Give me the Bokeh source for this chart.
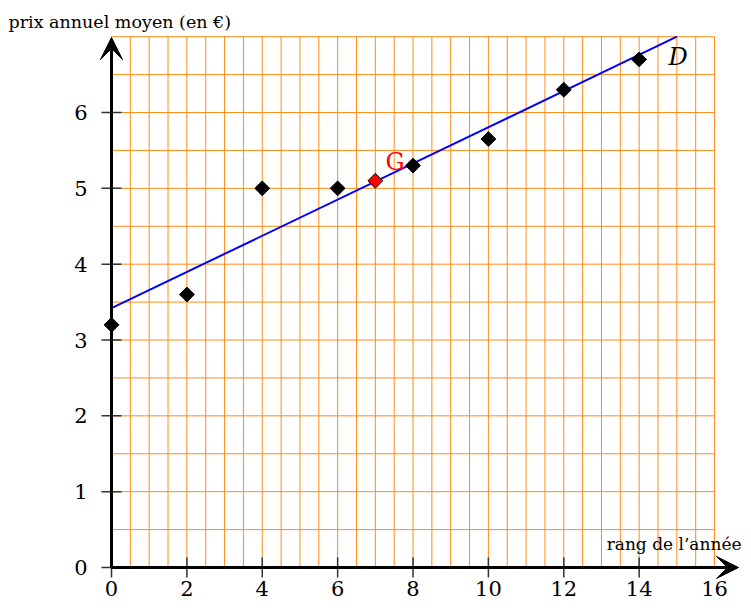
import numpy as np
from bokeh.plotting import figure
from bokeh.models import Range1d, Arrow, VeeHead
from bokeh.core.properties import value
from bokeh.embed import file_html
from bokeh.resources import INLINE

# ---- data ----
rang = [0, 2, 4, 6, 8, 10, 12, 14]
prix = [3.2, 3.6, 5.0, 5.0, 5.3, 5.65, 6.3, 6.7]
g_x = [7]
g_y = [5.1]
droite_x = [0, 15]
droite_y = [3.42, 7.0]
x_ticks = [0, 2, 4, 6, 8, 10, 12, 14, 16]
y_ticks = [0, 1, 2, 3, 4, 5, 6]
x_tick_labels = [str(v) for v in x_ticks]
y_tick_labels = [str(v) for v in y_ticks]
y_title = "prix annuel moyen (en €)"
x_title = "rang de l’année"

FONT = value("DejaVu Serif")
X0, Y0 = 111, 567      # pixel position of origin
PX_X = 37.69           # pixels per x unit
PX_Y = 75.83           # pixels per y unit
W, H = 743, 600


def dx(px):
    return (px - X0) / PX_X


def dy(py):
    return (Y0 - py) / PX_Y


p = figure(width=W, height=H,
           x_range=Range1d(dx(0), dx(W)), y_range=Range1d(dy(H), dy(0)),
           min_border=0, toolbar_location=None, output_backend="svg",
           x_axis_location=None, y_axis_location=None)
p.grid.visible = False
p.outline_line_color = None

# grid
gx = np.arange(0, 16.001, 0.5)
gy = np.arange(0, 7.001, 0.5)
p.segment(x0=gx, y0=0, x1=gx, y1=7, line_color="#FF8C1A", line_width=1)
p.segment(x0=0, y0=gy, x1=16, y1=gy, line_color="#FF8C1A", line_width=1)

# ticks
tx = np.array(x_ticks[:-1], dtype=float)
p.segment(x0=tx, y0=-10 / PX_Y, x1=tx, y1=10 / PX_Y, line_color="#333333", line_width=1.5)
ty = np.array(y_ticks, dtype=float)
p.segment(x0=-10 / PX_X, y0=ty, x1=10 / PX_X, y1=ty, line_color="#333333", line_width=1.5)

# axes with arrows
p.add_layout(Arrow(end=VeeHead(size=22, fill_color="black", line_color="black"),
                   x_start=0, y_start=0, x_end=dx(738), y_end=0,
                   line_width=3, line_color="black"))
p.add_layout(Arrow(end=VeeHead(size=22, fill_color="black", line_color="black"),
                   x_start=0, y_start=0, x_end=0, y_end=dy(37),
                   line_width=3, line_color="black"))

# regression line
p.line(droite_x, droite_y, line_color="#0000FF", line_width=2)

# points
p.scatter(rang, prix, marker="square", size=10.5, angle=np.pi / 4,
          fill_color="black", line_color="black")
p.scatter(g_x, g_y, marker="square", size=10.5, angle=np.pi / 4,
          fill_color="red", line_color="black", line_width=1)

# tick labels
p.text(x=x_ticks, y=dy(588), text=x_tick_labels, text_font=FONT,
       text_font_size="21px", text_align="center", text_baseline="middle", text_color="black")
p.text(x=dx(80.5), y=y_ticks, text=y_tick_labels, text_font=FONT,
       text_font_size="21px", text_align="center", text_baseline="middle", text_color="black")

# titles
p.text(x=[dx(8)], y=[dy(21)], text=[y_title], text_font=FONT,
       text_font_size="17.5px", text_align="left", text_baseline="middle", text_color="black")
p.text(x=[dx(741)], y=[dy(543)], text=[x_title], text_font=FONT,
       text_font_size="17px", text_align="right", text_baseline="middle", text_color="black")

# labels G and D
p.text(x=[dx(385)], y=[dy(161.5)], text=["G"], text_font=FONT,
       text_font_size="24px", text_align="left", text_baseline="middle", text_color="red")
p.text(x=[dx(668)], y=[dy(56.5)], text=["D"], text_font=FONT,
       text_font_size="24px", text_font_style="italic", text_align="left",
       text_baseline="middle", text_color="black")

open("out.html", "w").write(file_html(p, INLINE))
